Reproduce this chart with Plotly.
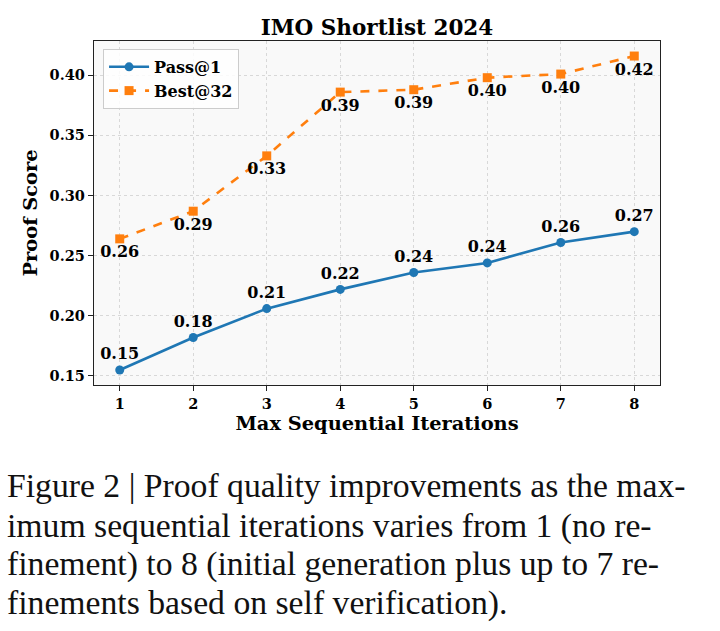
import plotly.graph_objects as go

# values
iterations = [1, 2, 3, 4, 5, 6, 7, 8]
pass_at_1 = [0.155, 0.182, 0.206, 0.222, 0.236, 0.244, 0.261, 0.270]
best_at_32 = [0.264, 0.287, 0.333, 0.386, 0.388, 0.398, 0.401, 0.416]
y_ticks = [0.15, 0.20, 0.25, 0.30, 0.35, 0.40]

caption_lines = [
    "Figure 2 | Proof quality improvements as the max-",
    "imum sequential iterations varies from 1 (no re-",
    "finement) to 8 (initial generation plus up to 7 re-",
    "finements based on self verification).",
]

W, H = 720, 631
L, R, T, B = 94, 60, 41, 246
plot_h = H - T - B
plot_w = W - L - R

bold = dict(family="DejaVu Serif", weight="bold", color="black")

fig = go.Figure()

fig.add_trace(go.Scatter(
    x=iterations, y=pass_at_1, name="Pass@1",
    mode="lines+markers+text",
    line=dict(color="#1f77b4", width=2.6),
    marker=dict(symbol="circle", size=9, color="#1f77b4"),
    text=[f"{v:.2f}" for v in pass_at_1],
    textposition="top center",
    textfont=dict(size=16, **bold),
))

fig.add_trace(go.Scatter(
    x=iterations, y=best_at_32, name="Best@32",
    mode="lines+markers+text",
    line=dict(color="#ff7f0e", width=2.6, dash="dash"),
    marker=dict(symbol="square", size=9, color="#ff7f0e"),
    text=[f"{v:.2f}" for v in best_at_32],
    textposition="bottom center",
    textfont=dict(size=16, **bold),
))

axis_common = dict(
    showline=True, linecolor="#222", linewidth=1.3, mirror=True,
    ticks="outside", ticklen=5, tickwidth=1.2, tickcolor="#222",
    showgrid=True, gridcolor="#d8d8d8", griddash="dot", gridwidth=1,
    zeroline=False, automargin=False,
    tickfont=dict(size=14.5, **bold),
)

fig.update_xaxes(
    range=[0.65, 8.35], tickvals=iterations,
    title=dict(text="Max Sequential Iterations", font=dict(size=19.4, **bold), standoff=2),
    **axis_common,
)
fig.update_yaxes(
    range=[0.1425, 0.4285], tickvals=y_ticks, tickformat=".2f",
    title=dict(text="Proof Score", font=dict(size=19.4, **bold), standoff=6),
    **axis_common,
)

# caption under the chart, one annotation per line
caption_baselines = [497, 538, 576, 615]
for line, base in zip(caption_lines, caption_baselines):
    fig.add_annotation(
        text=line, xref="paper", yref="paper",
        x=(5 - L) / plot_w, y=(H - B - base) / plot_h,
        xanchor="left", yanchor="bottom", yshift=-9, showarrow=False,
        font=dict(family="Liberation Serif", size=33.7, color="#111"),
    )

fig.update_layout(
    width=W, height=H,
    margin=dict(l=L, r=R, t=T, b=B, autoexpand=False),
    paper_bgcolor="white", plot_bgcolor="#f9f9f9",
    title=dict(text="IMO Shortlist 2024", x=0.5, xref="paper", xanchor="center",
               y=1 - 27 / H, yref="container", yanchor="middle", automargin=False,
               font=dict(size=21.5, **bold)),
    legend=dict(x=0.016, y=0.977, xanchor="left", yanchor="top",
                bgcolor="rgba(255,255,255,0.85)", bordercolor="#cccccc", borderwidth=1,
                font=dict(size=16, **bold), itemwidth=40),
    showlegend=True,
)

# drop the page's default body margin so the figure sits at the window corner
fig.write_html("out.html", config={"displayModeBar": False},
               post_script="document.body.style.margin='0px';")
